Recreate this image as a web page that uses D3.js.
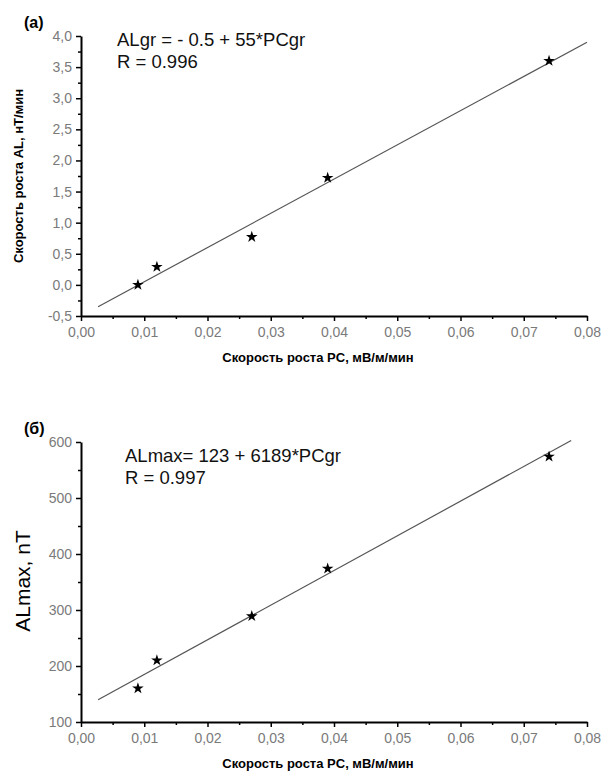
<!DOCTYPE html>
<html>
<head>
<meta charset="utf-8">
<script src="https://cdn.jsdelivr.net/npm/d3@7"></script>
<style>
  html, body { margin: 0; padding: 0; background: #fff; }
  svg { display: block; }
  .tick text { font-family: "Liberation Sans", Arial, sans-serif; font-size: 14px; fill: #7a7a7a; }
</style>
</head>
<body>
<svg id="chart" width="602" height="773"></svg>
<script>
// Shared x data: PC growth rate, mV/m/min
const pcRate = [0.009, 0.012, 0.027, 0.039, 0.074];

// Panel (a): AL growth rate, nT/min
const alGrowth = [0.0, 0.29, 0.77, 1.72, 3.6];
const fitA = { a: -0.5, b: 55, x0: 0.0027, x1: 0.08 };

// Panel (б): ALmax, nT
const alMax = [160, 210, 289, 374, 574];
const fitB = { a: 123, b: 6189, x0: 0.0027, x1: 0.0775 };

const xTicks = [0, 0.01, 0.02, 0.03, 0.04, 0.05, 0.06, 0.07, 0.08];
const yTicksA = [-0.5, 0, 0.5, 1.0, 1.5, 2.0, 2.5, 3.0, 3.5, 4.0];
const yTicksB = [100, 200, 300, 400, 500, 600];

const svg = d3.select("#chart");
const font = '"Liberation Sans", Arial, sans-serif';
const comma = (fmt) => (d) => d3.format(fmt)(d).replace(".", ",").replace("−", "-");

function panel(opts) {
  const { top, yDomain, yTicks, yMinorStep, yFmt, ys, fit, letter, eq, r, yLabel, yLabelStyle } = opts;
  const left = 81, right = 587, height = 280;
  const x = d3.scaleLinear().domain([0, 0.08]).range([left, right]);
  const y = d3.scaleLinear().domain(yDomain).range([top + height, top]);
  const g = svg.append("g");

  // minor ticks
  const xMinor = d3.range(0.005, 0.08, 0.01);
  const yMinor = d3.range(yDomain[0] + yMinorStep, yDomain[1], yMinorStep * 2);
  g.append("g").attr("transform", `translate(0,${top + height})`)
    .call(d3.axisBottom(x).tickValues(xMinor).tickSize(3).tickFormat(""))
    .call(a => a.select(".domain").remove())
    .selectAll("line").attr("stroke", "#000").attr("stroke-width", 1.5);
  g.append("g").attr("transform", `translate(${left},0)`)
    .call(d3.axisLeft(y).tickValues(yMinor).tickSize(3).tickFormat(""))
    .call(a => a.select(".domain").remove())
    .selectAll("line").attr("stroke", "#000").attr("stroke-width", 1.5);

  // major axes
  const xa = g.append("g").attr("transform", `translate(0,${top + height})`)
    .call(d3.axisBottom(x).tickValues(xTicks).tickSize(5).tickSizeOuter(0).tickPadding(6).tickFormat(comma(".2f")));
  xa.select(".domain").attr("stroke", "#000").attr("stroke-width", 2);
  xa.selectAll("line").attr("stroke", "#000").attr("stroke-width", 1.5);

  const ya = g.append("g").attr("transform", `translate(${left},0)`)
    .call(d3.axisLeft(y).tickValues(yTicks).tickSize(5).tickSizeOuter(0).tickPadding(4).tickFormat(yFmt));
  ya.select(".domain").attr("stroke", "#000").attr("stroke-width", 2);
  ya.selectAll("line").attr("stroke", "#000").attr("stroke-width", 1.5);

  // regression line
  const line = d3.line().x(d => x(d)).y(d => y(fit.a + fit.b * d));
  g.append("path").datum([fit.x0, fit.x1]).attr("d", line)
    .attr("fill", "none").attr("stroke", "#555").attr("stroke-width", 1.2);

  // star markers
  const star = d3.symbol().type(d3.symbolStar).size(42);
  g.selectAll("path.pt").data(pcRate).join("path").attr("class", "pt")
    .attr("transform", (d, i) => `translate(${x(d)},${y(ys[i])})`)
    .attr("d", star).attr("fill", "#000");

  // panel letter
  g.append("text").attr("x", 24).attr("y", top - 8).text(letter)
    .attr("font-family", font).attr("font-weight", "bold").attr("font-size", 16);

  // equation text
  g.append("text").attr("x", opts.eqX).attr("y", top + opts.eqDy).text(eq)
    .attr("font-family", font).attr("font-size", 18.5).attr("fill", "#111");
  g.append("text").attr("x", opts.eqX).attr("y", top + opts.eqDy + 22).text(r)
    .attr("font-family", font).attr("font-size", 18.5).attr("fill", "#111");

  // x label
  g.append("text").attr("x", 318).attr("y", top + height + 46).attr("text-anchor", "middle")
    .text("Скорость роста PC, мВ/м/мин")
    .attr("font-family", font).attr("font-weight", "bold").attr("font-size", 13);

  // y label
  g.append("text").attr("transform", `translate(${yLabelStyle.x},${yLabelStyle.y}) rotate(-90)`)
    .attr("text-anchor", "middle").text(yLabel)
    .attr("font-family", font).attr("font-weight", yLabelStyle.weight).attr("font-size", yLabelStyle.size);
}

panel({
  top: 36, yDomain: [-0.5, 4.0], yTicks: yTicksA, yMinorStep: 0.25, yFmt: comma(".1f"), ys: alGrowth,
  fit: fitA, letter: "(a)", eq: "ALgr = - 0.5 + 55*PCgr", r: "R = 0.996", eqX: 117, eqDy: 10,
  yLabel: "Скорость роста AL, нТ/мин", yLabelStyle: { x: 23, y: 176, weight: "bold", size: 13 }
});

panel({
  top: 442, yDomain: [100, 600], yTicks: yTicksB, yMinorStep: 50, yFmt: d3.format("d"), ys: alMax,
  fit: fitB, letter: "(б)", eq: "ALmax= 123 + 6189*PCgr", r: "R = 0.997", eqX: 125, eqDy: 20,
  yLabel: "ALmax,  nT", yLabelStyle: { x: 30, y: 581, weight: "normal", size: 21 }
});
</script>
</body>
</html>
